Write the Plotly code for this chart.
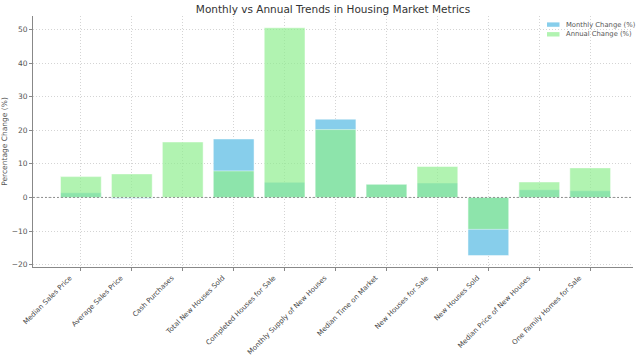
import plotly.graph_objects as go

categories = ["Median Sales Price", "Average Sales Price", "Cash Purchases",
              "Total New Houses Sold", "Completed Houses for Sale",
              "Monthly Supply of New Houses", "Median Time on Market",
              "New Houses for Sale", "New Houses Sold",
              "Median Price of New Houses", "One Family Homes for Sale"]
monthly_change = [1.4, -0.3, 0.0, 17.4, 4.5, 23.3, 3.9, 4.3, -17.3, 2.3, 2.0]
annual_change = [6.2, 7.0, 16.5, 7.9, 50.5, 20.2, 3.9, 9.2, -9.5, 4.6, 8.8]
series_names = ["Monthly Change (%)", "Annual Change (%)"]
series_colors = ["#87CEEB", "rgba(144,238,144,0.7)"]

x = list(range(len(categories)))
font = "DejaVu Sans, Verdana, sans-serif"

L, R, T, B, W, H = 33, 7, 16, 97, 640, 364
PW, PH = W - L - R, H - T - B


def px_x(p):
    return (p - L) / PW


def px_y(p):
    return (H - B - p) / PH


fig = go.Figure()
for vals, name, col in zip([monthly_change, annual_change], series_names, series_colors):
    fig.add_trace(go.Bar(x=x, y=vals, name=name,
                         marker=dict(color=col, line=dict(color="rgba(255,255,255,0.6)", width=0.8)),
                         width=0.8, showlegend=False))

fig.add_hline(y=0, line=dict(color="#777777", width=0.8, dash="2px,2px"))

# legend drawn manually (compact like the reference)
shapes = [dict(type="rect", xref="paper", yref="paper",
               x0=px_x(544), x1=px_x(632.5), y0=px_y(40), y1=px_y(19),
               line=dict(color="#c4c4c4", width=1), fillcolor="rgba(255,255,255,0.85)", layer="above")]
annotations = []
for i, (name, col) in enumerate(zip(series_names, series_colors)):
    yc = 24.6 + i * 9.7
    shapes.append(dict(type="rect", xref="paper", yref="paper",
                       x0=px_x(547), x1=px_x(559.5), y0=px_y(yc + 2.2), y1=px_y(yc - 2.2),
                       line=dict(width=0), fillcolor=col, layer="above"))
    annotations.append(dict(text=name, xref="paper", yref="paper", x=px_x(564), y=px_y(yc),
                            xanchor="left", yanchor="middle", showarrow=False,
                            font=dict(size=6.8, color="#555555")))

fig.update_layout(
    barmode="overlay",
    width=W, height=H,
    margin=dict(l=L, r=R, t=T, b=B, autoexpand=False),
    paper_bgcolor="white", plot_bgcolor="white",
    font=dict(family=font, size=7, color="#444444"),
    title=dict(text="Monthly vs Annual Trends in Housing Market Metrics",
               x=(L + PW / 2) / W, xanchor="center", xref="container",
               y=1 - 9.5 / H, yanchor="middle", yref="container", pad=dict(t=0, b=0),
               font=dict(size=10.5, color="#333333")),
    shapes=shapes,
    annotations=annotations,
    showlegend=False,
)

fig.update_xaxes(
    range=[-0.94, 10.84], automargin=False,
    tickmode="array", tickvals=x, ticktext=categories,
    tickangle=-45, tickfont=dict(size=7, color="#444444"), ticklabelshift=-11,
    showgrid=True, gridcolor="#d4d4d4", griddash="1px,2px", gridwidth=0.8,
    showline=True, linecolor="#888888", linewidth=1,
    ticks="outside", ticklen=3, tickcolor="#888888",
    zeroline=False,
)
fig.update_yaxes(
    range=[-20.7, 54], automargin=False,
    tickmode="array", tickvals=[-20, -10, 0, 10, 20, 30, 40, 50],
    ticktext=["\u221220", "\u221210", "0", "10", "20", "30", "40", "50"],
    tickfont=dict(size=7.5, color="#555555"),
    title=dict(text="Percentage Change (%)", font=dict(size=7.5, color="#555555"), standoff=3),
    showgrid=True, gridcolor="#d4d4d4", griddash="1px,2px", gridwidth=0.8,
    showline=True, linecolor="#888888", linewidth=1,
    ticks="outside", ticklen=3, tickcolor="#888888",
    zeroline=False,
)

fig.write_html("out.html", config={"displayModeBar": False},
               post_script="document.body.style.margin='0';document.body.style.padding='0';")
